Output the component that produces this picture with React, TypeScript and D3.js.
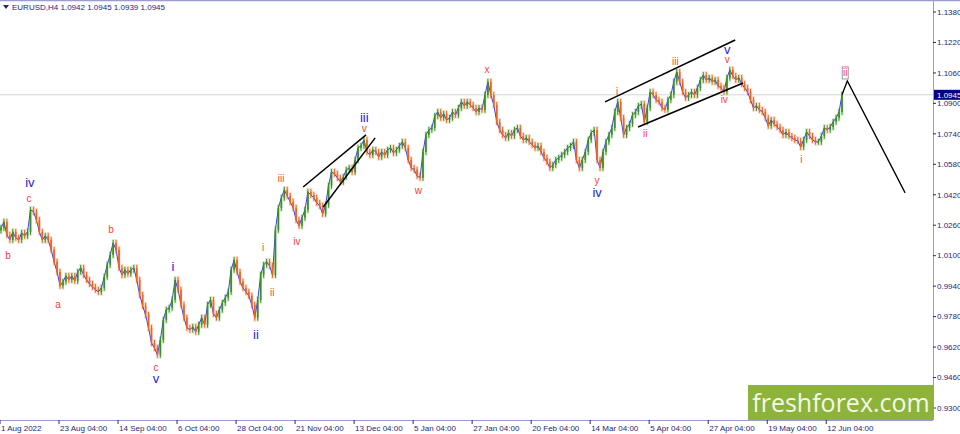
import React from "react";
import * as d3 from "d3";

const W = 960;
const H = 434;

// Close prices (one candle ≈ one trading day cluster of H4 bars)
const closes: number[] = [
  1.0246, 1.0278, 1.0209, 1.0183, 1.0225, 1.0194, 1.0183, 1.022, 1.0204, 1.0225,
  1.0341, 1.033, 1.0288, 1.0225, 1.0183, 1.0204, 1.0183, 1.0131, 1.0068, 1.0015,
  0.9942, 0.9963, 0.9994, 0.9973, 0.9994, 0.9968, 1.0015, 1.0036, 0.9999, 0.9973,
  0.9952, 0.9936, 0.9921, 0.991, 0.9931, 0.9989, 1.0052, 1.0104, 1.0167, 1.0131,
  1.0036, 0.9999, 1.0026, 1.0005, 1.0026, 1.0036, 0.9973, 0.9894, 0.9837, 0.9789,
  0.9721, 0.9642, 0.9616, 0.9579, 0.9658, 0.9763, 0.9816, 0.9826, 0.9868, 0.9973,
  0.9921, 0.9842, 0.9774, 0.9721, 0.9711, 0.9726, 0.97, 0.9737, 0.9774, 0.9737,
  0.9842, 0.9868, 0.9795, 0.9774, 0.9816, 0.9852, 0.9879, 0.991, 1.0026, 1.0078,
  1.0015, 0.9963, 0.9931, 0.991, 0.9889, 0.9842, 0.9774, 0.9868, 0.9999, 1.0052,
  1.0068, 1.0047, 0.9999, 1.0236, 1.0351, 1.0404, 1.0446, 1.0414, 1.0383, 1.0351,
  1.0288, 1.0257, 1.0299, 1.0341, 1.0435, 1.0419, 1.0404, 1.0377, 1.0362, 1.032,
  1.0367, 1.0467, 1.054, 1.053, 1.0509, 1.0488, 1.0514, 1.0551, 1.0561, 1.054,
  1.0603, 1.0666, 1.0677, 1.0708, 1.0645, 1.0629, 1.0656, 1.0645, 1.0619, 1.0645,
  1.0629, 1.0656, 1.0666, 1.064, 1.0656, 1.0677, 1.0698, 1.0666, 1.0603, 1.0561,
  1.0551, 1.0519, 1.0509, 1.0645, 1.0734, 1.0761, 1.0771, 1.0834, 1.0855, 1.0824,
  1.0845, 1.0813, 1.0824, 1.0855, 1.0839, 1.0876, 1.0908, 1.0887, 1.0908, 1.0892,
  1.0876, 1.0855, 1.0876, 1.0866, 1.0944, 1.1013, 1.0944, 1.0892, 1.0803, 1.0761,
  1.0734, 1.0719, 1.0745, 1.0729, 1.0761, 1.0771, 1.0729, 1.0708, 1.0719, 1.0698,
  1.0682, 1.0666, 1.0677, 1.0645, 1.0614, 1.0593, 1.0561, 1.0577, 1.0603, 1.0614,
  1.0629, 1.0645, 1.0666, 1.0677, 1.0698, 1.0603, 1.0561, 1.0603, 1.0645, 1.0708,
  1.0745, 1.0761, 1.0603, 1.0561, 1.0645, 1.0698, 1.0734, 1.0771, 1.0855, 1.0908,
  1.0824, 1.0734, 1.0771, 1.0792, 1.0839, 1.0855, 1.0887, 1.0897, 1.0803, 1.0876,
  1.096, 1.0944, 1.0918, 1.0908, 1.0876, 1.0866, 1.0918, 1.0944, 1.1013, 1.1065,
  1.1013, 1.096, 1.0929, 1.0944, 1.096, 1.0944, 1.0981, 1.1023, 1.1049, 1.1023,
  1.1034, 1.1013, 1.1023, 1.0992, 1.0981, 1.096, 1.1034, 1.1076, 1.1044, 1.1023,
  1.1034, 1.1002, 1.0981, 1.096, 1.0918, 1.0876, 1.0887, 1.0866, 1.0855, 1.0824,
  1.0782, 1.0813, 1.0792, 1.0776, 1.0761, 1.0734, 1.075, 1.0729, 1.0719, 1.0708,
  1.0703, 1.0671, 1.0708, 1.075, 1.0729, 1.0708, 1.0698, 1.0698, 1.0729, 1.0771,
  1.0761, 1.0776, 1.0803, 1.0824, 1.0855, 1.0945,
];

const priceTicks: number[] = [
  1.138, 1.122, 1.106, 1.09, 1.074, 1.058, 1.042, 1.026, 1.01, 0.994, 0.978, 0.962, 0.946, 0.93,
];

const timeLabels: string[] = [
  "1 Aug 2022", "23 Aug 04:00", "14 Sep 04:00", "6 Oct 04:00", "28 Oct 04:00",
  "21 Nov 04:00", "13 Dec 04:00", "5 Jan 04:00", "27 Jan 04:00", "20 Feb 04:00",
  "14 Mar 04:00", "5 Apr 04:00", "27 Apr 04:00", "19 May 04:00", "12 Jun 04:00",
];
const timeLabelIndex: number[] = [0, 20, 40, 60, 80, 100, 120, 140, 160, 180, 200, 220, 240, 260, 280];

const header = "EURUSD,H4  1.0942 1.0945 1.0939 1.0945";
const lastPrice = 1.0945;

// Trend lines: [index, price] pairs
const trendLines: [number, number, number, number][] = [
  [102.4, 1.0461, 123.7, 1.0735],
  [109.2, 1.0356, 126.8, 1.0719],
  [204.7, 1.0908, 248.8, 1.1233],
  [215.9, 1.0776, 251.5, 1.1007],
];
const projection: [number, number][] = [
  [285, 1.0945],
  [286.8, 1.1018],
  [306.4, 1.043],
];

// Wave labels
const blueLabels: [string, number, number][] = [
  ["iv", 9.8, 1.0482],
  ["v", 52.5, 0.9453],
  ["i", 58.3, 1.0041],
  ["ii", 86.4, 0.9684],
  ["iii", 123.1, 1.0824],
  ["iv", 202.0, 1.043],
  ["v", 246.1, 1.1181],
];
const redLabels: [string, number, number][] = [
  ["b", 2.4, 1.0099],
  ["c", 9.5, 1.0403],
  ["a", 19.3, 0.9842],
  ["b", 37.3, 1.0236],
  ["c", 52.5, 0.9511],
  ["i", 88.8, 1.0141],
  ["ii", 91.9, 0.9905],
  ["iii", 94.9, 1.0503],
  ["iv", 100.3, 1.0173],
  ["v", 123.1, 1.0766],
  ["w", 141.4, 1.044],
  ["x", 164.7, 1.1076],
  ["y", 202.0, 1.0493],
  ["i", 208.8, 1.096],
  ["ii", 218.3, 1.074],
  ["iii", 228.5, 1.1118],
  ["iv", 245.1, 1.0918],
  ["v", 246.1, 1.1128],
  ["i", 271.2, 1.0603],
];
const boxedLabel: [string, number, number] = ["ii", 286.1, 1.106];

const PLOT_R = 933;
const PLOT_B = 420;
const WICK = 0.0015;

export default function App() {
  const x = d3.scaleLinear().domain([0, 285]).range([1, 842]);
  const y = d3.scaleLinear().domain([0.93, 1.138]).range([408, 12]);

  const candles = closes.map((c, i) => {
    const o = i === 0 ? 1.0232 : closes[i - 1];
    const hi = Math.max(o, c) + WICK;
    const lo = Math.min(o, c) - WICK;
    return { i, o, c, hi, lo, up: c >= o };
  });

  const closeLine = d3
    .line<number>()
    .x((_, i) => x(i))
    .y((d) => y(d))(closes) as string;

  const projPath = d3
    .line<[number, number]>()
    .x((d) => x(d[0]))
    .y((d) => y(d[1]))(projection) as string;

  const axisColor = "#26267a";
  const frame = "#9c9cd0";
  const font = "'Liberation Sans', Arial, sans-serif";

  const bx = x(boxedLabel[1]);
  const by = y(boxedLabel[2]);

  return (
    <svg
      width={W}
      height={H}
      style={{ position: "absolute", left: 0, top: 0, background: "#fff" }}
      fontFamily={font}
    >
      <rect x={0} y={0} width={W} height={H} fill="#ffffff" />
      {/* frame */}
      <line x1={0} x2={W} y1={0.5} y2={0.5} stroke={frame} strokeWidth={1.5} />
      <line x1={PLOT_R + 0.5} x2={PLOT_R + 0.5} y1={0} y2={PLOT_B} stroke={frame} />
      <line x1={0} x2={PLOT_R} y1={PLOT_B + 0.5} y2={PLOT_B + 0.5} stroke={frame} />

      {/* current price line */}
      <line x1={0} x2={PLOT_R} y1={y(lastPrice)} y2={y(lastPrice)} stroke="#d4d4d4" />

      {/* candle halos */}
      {candles.map((d) => (
        <rect
          key={"h" + d.i}
          x={x(d.i) - 1.4}
          y={y(d.hi) - 1}
          width={2.8}
          height={Math.max(1, y(d.lo) - y(d.hi) + 2)}
          fill={d.up ? "#d6eacd" : "#fbdacb"}
        />
      ))}
      {/* close line */}
      <path d={closeLine} fill="none" stroke="#2b2bea" strokeWidth={0.9} />
      {/* candles */}
      {candles.map((d) => {
        const col = d.up ? "#3c8e26" : "#f0621e";
        const top = y(Math.max(d.o, d.c));
        const bot = y(Math.min(d.o, d.c));
        return (
          <g key={"c" + d.i}>
            <line x1={x(d.i)} x2={x(d.i)} y1={y(d.hi)} y2={y(d.lo)} stroke={col} strokeWidth={1} />
            <rect x={x(d.i) - 0.8} y={top} width={1.6} height={Math.max(1, bot - top)} fill={col} />
          </g>
        );
      })}

      {/* trend lines */}
      {trendLines.map((t, k) => (
        <line
          key={"t" + k}
          x1={x(t[0])}
          y1={y(t[1])}
          x2={x(t[2])}
          y2={y(t[3])}
          stroke="#000"
          strokeWidth={1.5}
        />
      ))}
      <path d={projPath} fill="none" stroke="#000" strokeWidth={1.3} />

      {/* wave labels */}
      {redLabels.map((l, k) => (
        <text
          key={"r" + k}
          x={x(l[1])}
          y={y(l[2])}
          fill="#ff3c3c"
          fontSize={10}
          textAnchor="middle"
          dominantBaseline="central"
        >
          {l[0]}
        </text>
      ))}
      {blueLabels.map((l, k) => (
        <text
          key={"b" + k}
          x={x(l[1])}
          y={y(l[2])}
          fill="#2424d8"
          fontSize={13}
          textAnchor="middle"
          dominantBaseline="central"
        >
          {l[0]}
        </text>
      ))}
      <rect x={bx - 3} y={by - 6} width={6} height={12} fill="none" stroke="#9a9a9a" strokeWidth={1} />
      <text x={bx} y={by} fill="#ff3c3c" fontSize={10} textAnchor="middle" dominantBaseline="central">
        {boxedLabel[0]}
      </text>

      {/* header */}
      <path d="M3,5 L9,5 L6,9 Z" fill={axisColor} />
      <text x={12} y={10} fontSize={8} fill={axisColor}>
        {header}
      </text>

      {/* right axis */}
      {priceTicks.map((p) => (
        <g key={"p" + p}>
          <line x1={PLOT_R} x2={PLOT_R + 3} y1={y(p)} y2={y(p)} stroke={axisColor} />
          <text x={PLOT_R + 4} y={y(p)} dy="0.35em" fontSize={8} fill={axisColor}>
            {p.toFixed(4)}
          </text>
        </g>
      ))}
      <rect x={PLOT_R + 1} y={y(lastPrice) - 5} width={W - PLOT_R} height={10} fill="#000080" />
      <text x={PLOT_R + 4} y={y(lastPrice)} dy="0.35em" fontSize={8} fill="#ffffff">
        {lastPrice.toFixed(4)}
      </text>

      {/* bottom axis */}
      {timeLabels.map((t, k) => {
        const tx = x(timeLabelIndex[k]) - 1;
        return (
          <g key={"x" + k}>
            <line x1={tx} x2={tx} y1={PLOT_B} y2={PLOT_B + 4} stroke={axisColor} />
            <text x={tx + 1} y={431} fontSize={8} fill={axisColor}>
              {t}
            </text>
          </g>
        );
      })}

      {/* watermark */}
      <rect x={748} y={385} width={186} height={35} fill="#8db33a" />
      <text
        x={841}
        y={402}
        fill="#f4f8ec"
        fontSize={25}
        textAnchor="middle"
        dominantBaseline="central"
        fontFamily="'Open Sans', 'Noto Sans', sans-serif"
      >
        freshforex.com
      </text>
    </svg>
  );
}
